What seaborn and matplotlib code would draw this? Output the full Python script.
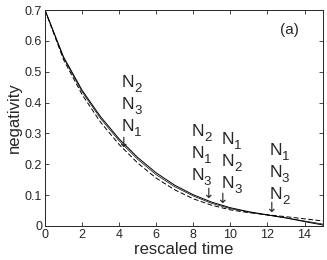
import numpy as np
import pandas as pd
import seaborn as sns
import matplotlib
matplotlib.use("Agg")
import matplotlib.pyplot as plt

# rescaled time grid and negativity curves
t = [0, 1, 2, 3, 4, 5, 6, 7, 8, 9, 10, 11, 12, 13, 14, 15]
neg_a = [0.700, 0.548, 0.440, 0.354, 0.282, 0.222, 0.172, 0.132, 0.101, 0.077,
         0.059, 0.046, 0.036, 0.026, 0.014, 0.003]
neg_b = [0.700, 0.545, 0.435, 0.348, 0.276, 0.216, 0.166, 0.127, 0.097, 0.073,
         0.056, 0.045, 0.035, 0.026, 0.016, 0.006]
neg_c = [0.700, 0.539, 0.426, 0.336, 0.264, 0.204, 0.155, 0.117, 0.088, 0.067,
         0.052, 0.043, 0.036, 0.030, 0.023, 0.016]

# annotation groups: arrow tip (time, value) and subscripts top->bottom
ann_t = [4.21, 8.79, 9.55, 12.21]
ann_y = [0.256, 0.092, 0.076, 0.046]
ann_lab = [["2", "3", "1"], ["2", "1", "3"], ["1", "2", "3"], ["1", "3", "2"]]
# label block offset from arrow tip, in pixels (left edge, top baseline)
ann_dx = [-1.5, -16.5, -0.5, -2.0]
ann_dy = [60, 62, 58, 57]

sns.set_style("ticks")
plt.rcParams['font.family'] = ['Liberation Sans', 'DejaVu Sans']

fig = plt.figure(figsize=(3.27, 2.60), dpi=100)
ax = fig.add_axes([0.1376, 0.131, 0.8504, 0.8305])

df = pd.DataFrame({"t": t, "a": neg_a, "b": neg_b, "c": neg_c})
sns.lineplot(data=df, x="t", y="a", color="k", lw=0.7, ax=ax)
sns.lineplot(data=df, x="t", y="b", color="k", lw=0.5, ax=ax)
sns.lineplot(data=df, x="t", y="c", color="k", lw=0.7, ls=(0, (5, 2.5)), ax=ax)

px = 0.72  # pixels -> points at 100 dpi
for x0, y0, labs, dx, dy in zip(ann_t, ann_y, ann_lab, ann_dx, ann_dy):
    ax.annotate("\u2193", (x0, y0), xytext=(0, 0), textcoords="offset points",
                ha="center", va="baseline", fontsize=10,
                family=['DejaVu Sans'])
    for i, s in enumerate(labs):
        yb = dy - 22 * i
        ax.annotate("N", (x0, y0), xytext=(dx * px, yb * px),
                    textcoords="offset points", ha="left", va="baseline",
                    fontsize=12.5)
        ax.annotate(s, (x0, y0), xytext=((dx + 12.5) * px, (yb - 5) * px),
                    textcoords="offset points", ha="left", va="baseline",
                    fontsize=9.5)

ax.text(13.2, 0.635, "(a)", ha="center", va="center", fontsize=11)

ax.set_xlim(0, 15)
ax.set_ylim(0, 0.7)
ax.set_xticks([0, 2, 4, 6, 8, 10, 12, 14])
ax.set_yticks([0, 0.1, 0.2, 0.3, 0.4, 0.5, 0.6, 0.7])
ax.set_yticklabels(["0", "0.1", "0.2", "0.3", "0.4", "0.5", "0.6", "0.7"])
ax.tick_params(direction="in", top=True, right=True, labelsize=9,
               length=3, width=0.6, pad=2)
for sp in ax.spines.values():
    sp.set_linewidth(0.7)
ax.set_xlabel("rescaled time", fontsize=12, labelpad=1)
ax.set_ylabel("negativity", fontsize=12, labelpad=2)

fig.savefig("out.png", dpi=100)
